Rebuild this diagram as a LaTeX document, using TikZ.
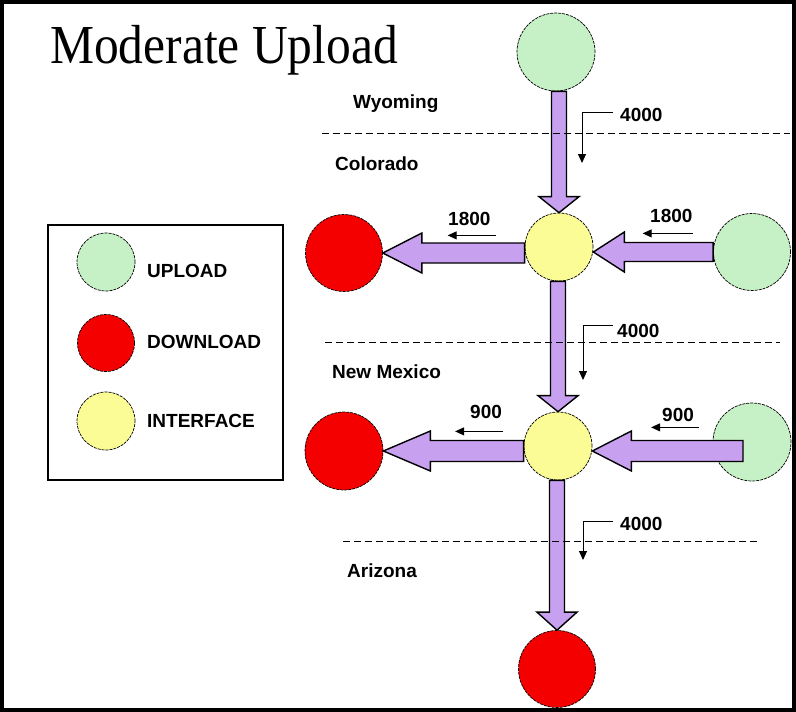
\documentclass[tikz,border=0pt]{standalone}
\usepackage{fontspec}
\setmainfont{Liberation Serif}
\setsansfont{Liberation Sans}
\usetikzlibrary{arrows.meta,calc}
\definecolor{upg}{RGB}{198,240,198}
\definecolor{dnr}{RGB}{244,0,0}
\definecolor{ify}{RGB}{252,252,150}
\definecolor{flow}{RGB}{200,160,240}
\newcommand\harrow[5]{%
  \draw[flowline] ([yshift=#3]#1) -- ([xshift=#5,yshift=#3]#2) -- ([xshift=#5,yshift=#4]#2) -- (#2)
    -- ([xshift=#5,yshift=-#4]#2) -- ([xshift=#5,yshift=-#3]#2) -- ([yshift=-#3]#1) -- cycle;}
\newcommand\varrow[5]{%
  \draw[flowline] ([xshift=-#3]#1) -- ([xshift=-#3,yshift=#5]#2) -- ([xshift=-#4,yshift=#5]#2) -- (#2)
    -- ([xshift=#4,yshift=#5]#2) -- ([xshift=#3,yshift=#5]#2) -- ([xshift=#3]#1) -- cycle;}
\begin{document}
\begin{tikzpicture}[x=1pt,y=-1pt,
  site/.style={circle,draw=black,line width=0.7pt,dash pattern=on 3pt off 1pt,inner sep=0pt,minimum size=#1},
  upnode/.style={site=#1,fill=upg},
  dnnode/.style={site=#1,fill=dnr},
  ifnode/.style={site=#1,fill=ify},
  flowline/.style={draw=black,fill=flow,line width=1.4pt,line join=miter},
  lbl/.style={font=\sffamily\bfseries\fontsize{19}{21}\selectfont,inner sep=0pt,anchor=base west},
  tick/.style={draw=black,line width=1pt,-{Triangle[width=8pt,length=9pt]}},
  border/.style={draw=black,line width=1pt,dash pattern=on 7pt off 4pt}]
\useasboundingbox (0,0) rectangle (796,712);
\fill[white] (0,0) rectangle (796,712);

% title
\node[anchor=base west,inner sep=0pt,font=\fontsize{55}{60}\selectfont] (title) at (50,63) {\scalebox{0.9}[1]{Moderate Upload}};

% legend
\draw[line width=1.2pt] (48,225) rectangle (283,480);
\node[upnode=58pt] (lg) at (106,262) {};
\node[dnnode=57pt] (lr) at (106,343) {};
\node[ifnode=58pt] (ly) at (106,421) {};
\node[lbl] (tlg) at (147,277) {UPLOAD};
\node[lbl] (tlr) at (147,348) {DOWNLOAD};
\node[lbl] (tly) at (147,427) {INTERFACE};

% sites
\node[upnode=78pt] (g0) at (556,52) {};
\node[ifnode=68pt] (y1) at (559,247) {};
\node[upnode=77pt] (g1) at (752,252) {};
\node[dnnode=77pt] (r1) at (344,253) {};
\node[ifnode=68pt] (y2) at (558,446) {};
\node[dnnode=78pt] (r2) at (344,451) {};
\node[upnode=78pt] (g2) at (752,442) {};
\node[dnnode=77pt] (r3) at (557,669) {};

% flow arrows
\coordinate (s1) at (y1.north |- g0.south);
\varrow{s1}{y1.north}{7.5}{20}{16}
\coordinate (s2) at (y2.north |- y1.south);
\varrow{s2}{y2.north}{7.5}{20}{16}
\coordinate (s3) at (r3.north |- y2.south);
\varrow{s3}{r3.north}{7.5}{20}{18}
\coordinate (t4) at (y1.east |- g1);
\harrow{g1.west}{t4}{9.5}{20}{31}
\coordinate (s5) at (y1.west |- r1);
\harrow{s5}{r1.east}{10}{20}{39}
\coordinate (s6) at ([xshift=-9pt]g2.center |- r2);
\coordinate (t6) at (y2.east |- r2);
\harrow{s6}{t6}{10.5}{20}{39}
\coordinate (s7) at (y2.west |- r2);
\harrow{s7}{r2.east}{10.5}{20}{47}

% state borders
\draw[border] (322,133) -- (790,133);
\draw[border] (325,342) -- (780,342);
\draw[border] (343,541) -- (757,541);

% state names
\node[lbl] (wy) at (353,108) {Wyoming};
\node[lbl] (co) at (335,170) {Colorado};
\node[lbl] (nm) at (332,378) {New Mexico};
\node[lbl] (az) at (347,577) {Arizona};

% flow amounts
\node[lbl] (n1) at (620,121) {4000};
\node[lbl] (n2) at (617,337) {4000};
\node[lbl] (n3) at (620,530) {4000};
\node[lbl] (n5) at (650,222) {1800};
\node[lbl] (n6) at (448,225) {1800};
\node[lbl] (n7) at (470,418) {900};
\node[lbl] (n8) at (662,421) {900};

\coordinate (e1) at (582,163);
\draw[tick] ([xshift=-7pt,yshift=2pt]n1.west) -| (e1);
\coordinate (e2) at (583,380);
\draw[tick] ([xshift=-4pt,yshift=5pt]n2.west) -| (e2);
\coordinate (e3) at (583,560);
\draw[tick] ([xshift=-7pt,yshift=2pt]n3.west) -| (e3);
\draw[tick] ([yshift=-11pt]n5.south east) -- ++(-50,0) coordinate (e5);
\draw[tick] ([xshift=5pt,yshift=-10pt]n6.south east) -- ++(-48,0) coordinate (e6);
\draw[tick] ([xshift=1pt,yshift=-13pt]n7.south east) -- ++(-48,0) coordinate (e7);
\draw[tick] ([xshift=5pt,yshift=-6pt]n8.south east) -- ++(-48,0) coordinate (e8);

% frame
\draw[line width=4pt] (2,2) rectangle (794,710);
\end{tikzpicture}
\end{document}
